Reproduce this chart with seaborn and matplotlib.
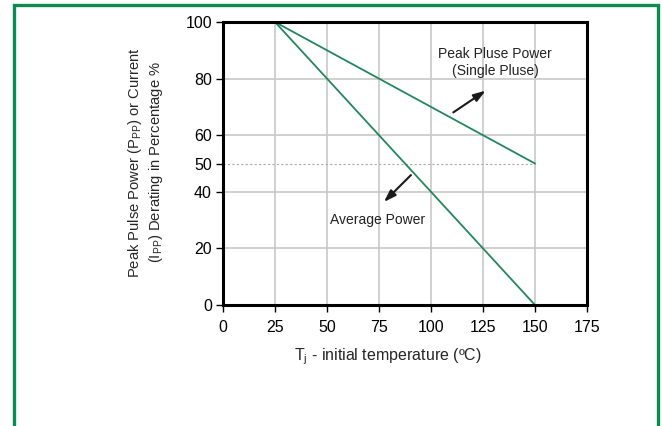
import matplotlib
matplotlib.use("Agg")
import matplotlib.pyplot as plt
import seaborn as sns
import pandas as pd
from matplotlib.patches import Rectangle

# data
temp = [25, 150]
peak_pulse_power = [100, 50]
average_power = [100, 0]
x_ticks = [0, 25, 50, 75, 100, 125, 150, 175]
y_ticks = [0, 20, 40, 50, 60, 80, 100]
ref_level = 50

sns.set_theme(style="white")
plt.rcParams['font.family'] = ['Liberation Sans', 'DejaVu Sans']
plt.rcParams['mathtext.fontset'] = 'custom'
plt.rcParams['mathtext.rm'] = 'Liberation Sans'
plt.rcParams['mathtext.it'] = 'Liberation Sans'

GREEN = "#23865f"
fig = plt.figure(figsize=(6.62, 4.26), dpi=100)
fig.patch.set_facecolor("white")
W, H = 662, 426
ax = fig.add_axes([223 / W, 1 - 305 / H, (587 - 223) / W, (305 - 22) / H])

df = pd.DataFrame({
    "T": temp * 2,
    "val": peak_pulse_power + average_power,
    "series": ["peak"] * 2 + ["avg"] * 2,
})
sns.lineplot(data=df, x="T", y="val", units="series", estimator=None,
             color=GREEN, lw=1.3, ax=ax, legend=False)

ax.set_xlim(0, 175)
ax.set_ylim(0, 100)
ax.set_xticks(x_ticks)
ax.set_yticks(y_ticks)
ax.tick_params(axis='both', labelsize=11.5, colors='black', length=5, width=1,
               direction='out', bottom=True, left=True)
ax.tick_params(axis='x', pad=6)
ax.tick_params(axis='y', pad=3)
for t in x_ticks[1:-1]:
    ax.axvline(t, color="#c8c8c8", lw=1.2, zorder=0)
for t in [20, 40, 60, 80]:
    ax.axhline(t, color="#c8c8c8", lw=1.2, zorder=0)
ax.plot([0, 150], [ref_level, ref_level], color="#aaaaaa", lw=0.8,
        linestyle=(0, (2, 2)), zorder=0)
for s in ax.spines.values():
    s.set_color("black")
    s.set_linewidth(2.2)
ax.set_xlabel("")
ax.set_ylabel("")

# annotations
ax.text(130.8, 88.7, "Peak Pluse Power", ha="center", va="center", fontsize=10, color="#222222")
ax.text(130.8, 82.7, "(Single Pluse)", ha="center", va="center", fontsize=10, color="#222222")
ax.annotate("", xy=(127.4, 76.3), xytext=(109.6, 67.5),
            arrowprops=dict(arrowstyle="-|>,head_length=0.6,head_width=0.2", color="#1a1a1a", lw=1.5))
ax.text(74.5, 30.0, "Average Power", ha="center", va="center", fontsize=10, color="#222222")
ax.annotate("", xy=(76.4, 35.7), xytext=(91.3, 46.6),
            arrowprops=dict(arrowstyle="-|>,head_length=0.6,head_width=0.2", color="#1a1a1a", lw=1.5))

# axis labels
fig.text(135 / W, 1 - 162 / H, r"Peak Pulse Power (P$_{\mathregular{PP}}$) or Current",
         rotation=90, ha="center", va="center", fontsize=10.6)
fig.text(156 / W, 1 - 162 / H, r"(I$_{\mathregular{PP}}$) Derating in Percentage %",
         rotation=90, ha="center", va="center", fontsize=10.6)
fig.text(388 / W, 1 - 357 / H, r"T$_{\mathregular{j}}$ - initial temperature (ºC)",
         ha="center", va="center", fontsize=11.5)

# green frame
fig.patches.append(Rectangle((13.5 / W, -0.05), (657.5 - 13.5) / W, (1 - 4.5 / H) + 0.05,
                             transform=fig.transFigure, fill=False,
                             edgecolor="#0b8a52", lw=2.4, zorder=10))

fig.savefig("out.png", dpi=100)
